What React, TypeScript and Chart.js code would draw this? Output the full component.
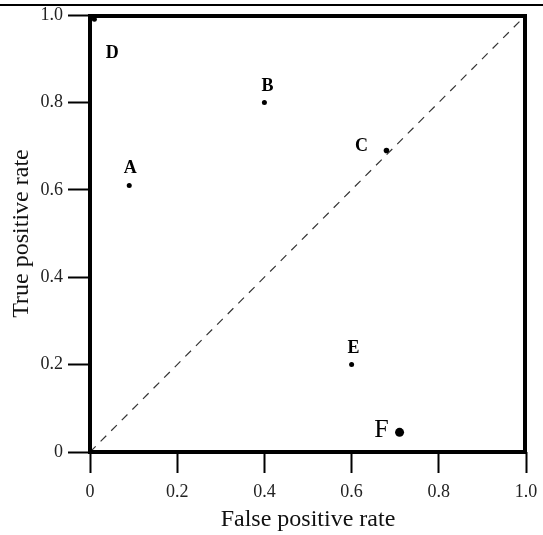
import React, { useEffect, useRef } from "react";
import { Chart, registerables } from "chart.js";

Chart.register(...registerables);

const pointNames = ["A", "B", "C", "D", "E", "F"];
const fprValues = [0.09, 0.4, 0.68, 0.01, 0.6, 0.71];
const tprValues = [0.61, 0.8, 0.69, 0.99, 0.2, 0.045];
const tickValues = [0, 0.2, 0.4, 0.6, 0.8, 1.0];
const diagonal = [0, 1];

// label styling: [dx, dy, bold, fontSize]
const labelStyle: [number, number, boolean, number][] = [
  [1, -17, true, 18],
  [3, -16, true, 18],
  [-25, -4, true, 18],
  [18, 34, true, 18],
  [2, -16, true, 18],
  [-18, -2, false, 26],
];
const pointSizes = [2.5, 2.5, 2.8, 2.5, 2.5, 4.5];

const SERIF = "'Liberation Serif', 'Times New Roman', serif";

const decor = {
  id: "decor",
  afterDraw(chart: any) {
    const { ctx, chartArea } = chart;
    ctx.save();
    // top rule
    ctx.strokeStyle = "#000";
    ctx.lineWidth = 2;
    ctx.beginPath();
    ctx.moveTo(0, 5);
    ctx.lineTo(chart.width, 5);
    ctx.stroke();
    // frame
    ctx.lineWidth = 4;
    ctx.strokeRect(chartArea.left, chartArea.top + 1, chartArea.right - chartArea.left - 1, chartArea.bottom - chartArea.top - 1);
    // labels
    const meta = chart.getDatasetMeta(1);
    meta.data.forEach((pt: any, i: number) => {
      const [dx, dy, bold, size] = labelStyle[i];
      ctx.font = `${bold ? "bold " : ""}${size}px ${SERIF}`;
      ctx.fillStyle = "#000";
      ctx.textAlign = "center";
      ctx.textBaseline = "middle";
      ctx.fillText(pointNames[i], pt.x + dx, pt.y + dy);
    });
    ctx.restore();
  },
};

const fmt = (v: any) => (Number(v) === 0 ? "0" : Number(v).toFixed(1));

export default function App() {
  const ref = useRef<HTMLCanvasElement>(null);
  useEffect(() => {
    const chart = new Chart(ref.current!, {
      type: "scatter",
      data: {
        datasets: [
          {
            type: "line",
            data: diagonal.map((v) => ({ x: v, y: v })),
            borderColor: "#333",
            borderWidth: 1.2,
            borderDash: [8, 7],
            pointRadius: 0,
            fill: false,
          } as any,
          {
            data: fprValues.map((x, i) => ({ x, y: tprValues[i] })),
            backgroundColor: "#000",
            borderColor: "#000",
            pointRadius: pointSizes,
            pointBorderWidth: 0,
          },
        ],
      },
      options: {
        responsive: false,
        animation: false,
        layout: { padding: { left: 0, top: 15, right: 17, bottom: 0 } },
        plugins: { legend: { display: false }, tooltip: { enabled: false } },
        scales: {
          x: {
            type: "linear",
            min: 0,
            max: 1,
            afterFit: (s: any) => {
              s.height = 83;
              s.paddingLeft = 0;
              s.paddingRight = 0;
            },
            afterBuildTicks: (s: any) => {
              s.ticks = tickValues.map((v) => ({ value: v }));
            },
            ticks: {
              callback: fmt,
              font: { family: SERIF, size: 18 },
              color: "#222",
              padding: 8,
              maxRotation: 0,
            },
            grid: { drawOnChartArea: false, tickLength: 21, tickWidth: 2, tickColor: "#000", color: "#000" },
            border: { display: false },
            title: {
              display: true,
              text: "False positive rate",
              font: { family: SERIF, size: 24 },
              color: "#111",
              padding: { top: 0, bottom: 1 },
            },
          },
          y: {
            type: "linear",
            min: 0,
            max: 1,
            afterFit: (s: any) => {
              s.width = 90;
              s.paddingTop = 0;
              s.paddingBottom = 0;
            },
            afterBuildTicks: (s: any) => {
              s.ticks = tickValues.map((v) => ({ value: v }));
            },
            ticks: {
              callback: fmt,
              font: { family: SERIF, size: 18 },
              color: "#222",
              padding: 5,
            },
            grid: { drawOnChartArea: false, tickLength: 22, tickWidth: 2, tickColor: "#000", color: "#000" },
            border: { display: false },
            title: {
              display: true,
              text: "True positive rate",
              font: { family: SERIF, size: 24 },
              color: "#111",
              padding: { top: 7, bottom: 0 },
            },
          },
        },
      },
      plugins: [decor],
    });
    return () => chart.destroy();
  }, []);
  return (
    <div style={{ position: "fixed", left: 0, top: 0, width: 543, height: 535, background: "#fff" }}>
      <canvas ref={ref} width={543} height={535} />
    </div>
  );
}
